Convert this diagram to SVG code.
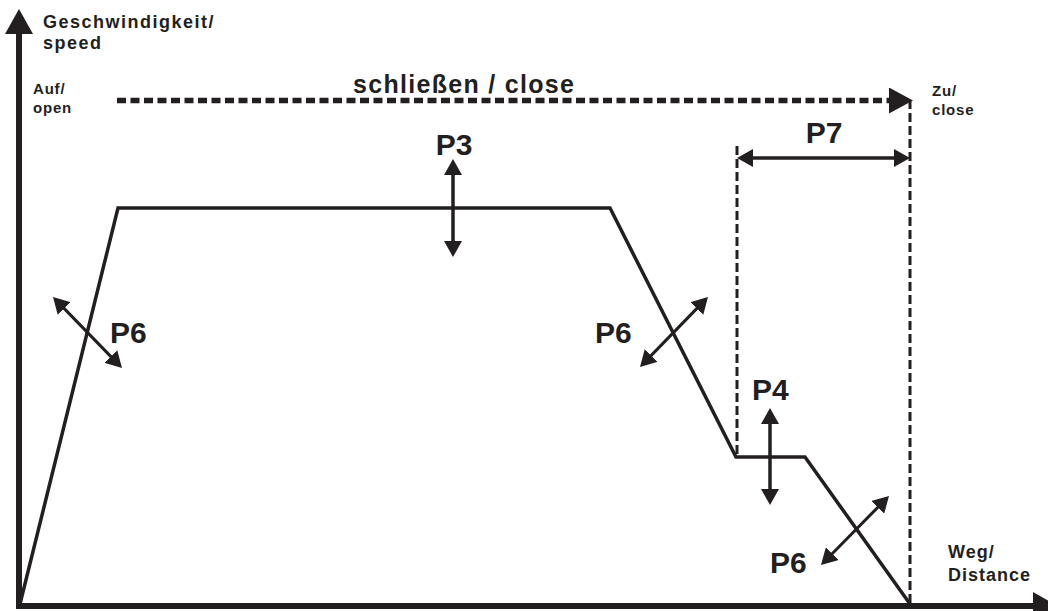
<svg xmlns="http://www.w3.org/2000/svg" width="1048" height="611" viewBox="0 0 1048 611">
<style>
.ink{stroke:#231f20;fill:none}
.lbl{font-family:"Liberation Sans",Arial,sans-serif;font-weight:bold;fill:#231f20}
.p{font-size:30px}
.s{font-size:15px;letter-spacing:0.8px}
</style>
<defs>
<marker id="ah" viewBox="0 0 16 18" refX="12" refY="9" markerWidth="16" markerHeight="18" markerUnits="userSpaceOnUse" orient="auto-start-reverse">
<path d="M0,0 L16,9 L0,18 z" fill="#231f20"/>
</marker>
<marker id="big" viewBox="0 0 25 28" refX="0" refY="14" markerWidth="25" markerHeight="28" markerUnits="userSpaceOnUse" orient="auto">
<path d="M0,0 L25,14 L0,28 z" fill="#231f20"/>
</marker>
<marker id="dash" viewBox="0 0 24 26" refX="0" refY="13" markerWidth="24" markerHeight="26" markerUnits="userSpaceOnUse" orient="auto">
<path d="M0,0 L24,13 L0,26 z" fill="#231f20"/>
</marker>
</defs>
<rect width="1048" height="611" fill="#fff"/>
<g id="axes">
<line class="ink" x1="19" y1="606" x2="19" y2="34" stroke-width="6" marker-end="url(#big)"/>
<line class="ink" x1="16" y1="606" x2="1033" y2="606" stroke-width="6" marker-end="url(#big)"/>
</g>
<g id="curve">
<polyline class="ink" points="20,604 118,208 610,208 736,457 805,457 910,604" stroke-width="3.5" stroke-linejoin="miter"/>
</g>
<g id="guides">
<line class="ink" x1="737" y1="146" x2="737" y2="457" stroke-width="3" stroke-dasharray="9 4"/>
<line class="ink" x1="910" y1="100" x2="910" y2="605" stroke-width="3" stroke-dasharray="9 4"/>
</g>
<g id="connectors">
<line class="ink" x1="117" y1="100.5" x2="889" y2="100.5" stroke-width="5.5" stroke-dasharray="9 4.5" marker-end="url(#dash)"/>
<line class="ink" x1="741" y1="158" x2="906" y2="158" stroke-width="3.3" marker-start="url(#ah)" marker-end="url(#ah)"/>
<line class="ink" x1="453" y1="163" x2="453" y2="253" stroke-width="3.5" marker-start="url(#ah)" marker-end="url(#ah)"/>
<line class="ink" x1="770" y1="412" x2="770" y2="501" stroke-width="3.5" marker-start="url(#ah)" marker-end="url(#ah)"/>
<line class="ink" x1="55.8" y1="299.9" x2="119.2" y2="365.1" stroke-width="3" marker-start="url(#ah)" marker-end="url(#ah)"/>
<line class="ink" x1="642.8" y1="364.1" x2="705.2" y2="299.9" stroke-width="3" marker-start="url(#ah)" marker-end="url(#ah)"/>
<line class="ink" x1="823.8" y1="562.2" x2="886.2" y2="498.8" stroke-width="3" marker-start="url(#ah)" marker-end="url(#ah)"/>
</g>
<g id="labels">
<text class="lbl" x="43" y="28" font-size="18" letter-spacing="1.5">Geschwindigkeit/</text>
<text class="lbl" x="43" y="49" font-size="18" letter-spacing="1.5">speed</text>
<text class="lbl s" x="33" y="94">Auf/</text>
<text class="lbl s" x="33" y="113">open</text>
<text class="lbl s" x="932" y="96">Zu/</text>
<text class="lbl s" x="932" y="115">close</text>
<text class="lbl" x="353" y="93" font-size="25" letter-spacing="1.3">schließen / close</text>
<text class="lbl" x="948" y="558" font-size="18" letter-spacing="1">Weg/</text>
<text class="lbl" x="948" y="581" font-size="18" letter-spacing="1">Distance</text>
</g>
<g id="P3"><text class="lbl p" x="454" y="155" text-anchor="middle">P3</text></g>
<g id="P7"><text class="lbl p" x="824" y="143" text-anchor="middle">P7</text></g>
<g id="P6a"><text class="lbl p" x="110" y="343">P6</text></g>
<g id="P6b"><text class="lbl p" x="595" y="343">P6</text></g>
<g id="P4"><text class="lbl p" x="752" y="400">P4</text></g>
<g id="P6c"><text class="lbl p" x="770" y="573">P6</text></g>
</svg>
